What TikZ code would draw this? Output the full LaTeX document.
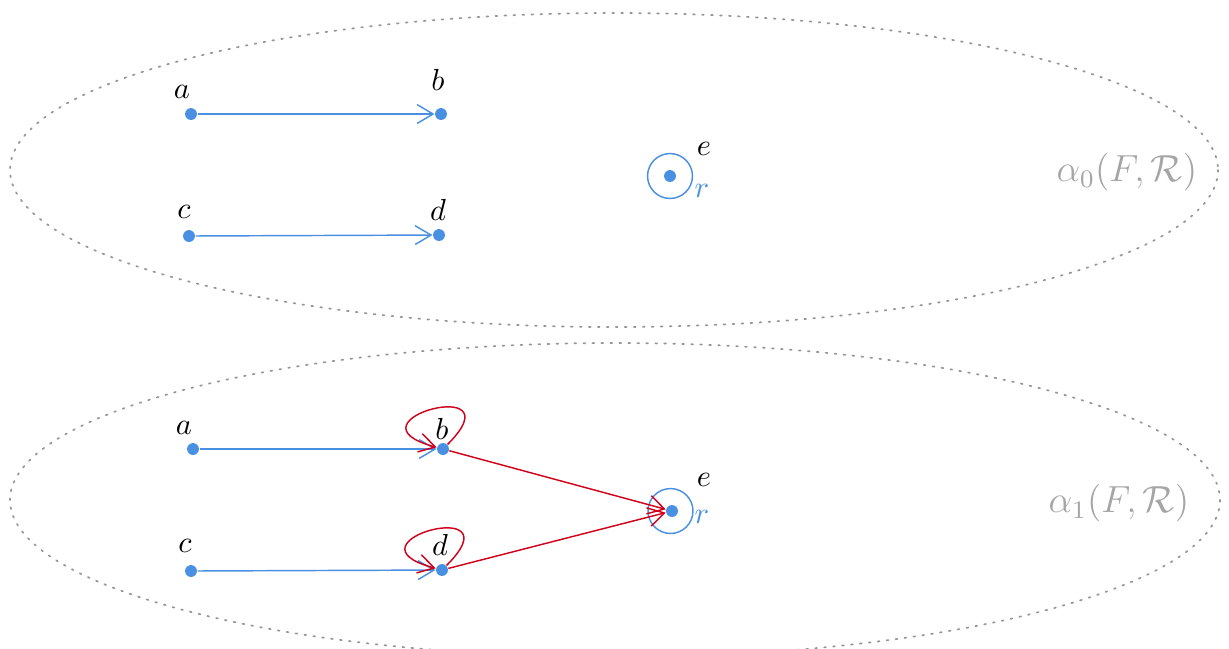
\documentclass[tikz,border=0pt]{standalone}
\usetikzlibrary{arrows.meta}
\definecolor{nodeblue}{RGB}{74,144,226}
\definecolor{edgered}{RGB}{208,2,27}
\definecolor{setgray}{RGB}{150,150,150}
\definecolor{labelgray}{RGB}{165,165,165}
\begin{document}
\begin{tikzpicture}[x=0.345pt,y=-0.345pt,
  dot/.style={circle,fill=nodeblue,inner sep=0pt,minimum size=4.1pt},
  ring/.style={circle,draw=nodeblue,line width=0.5pt,inner sep=0pt,minimum size=15.5pt},
  blueedge/.style={draw=nodeblue,line width=0.5pt,-{Straight Barb[length=5.5pt,width=6.5pt]}},
  rededge/.style={draw=edgered,line width=0.5pt,-{Straight Barb[length=5.5pt,width=6.5pt]}},
  selfloop/.style={rededge,out=45,in=165,min distance=35pt,looseness=8},
  lbl/.style={anchor=base,inner sep=0pt,scale=1.05},
  setlbl/.style={text=labelgray,font=\large,scale=1.085,inner sep=0pt},
  setline/.style={draw=setgray,line width=0.6pt,dash pattern=on 0.6pt off 2.5pt,line cap=round}]
\useasboundingbox (0,0) rectangle (1229,648);
\clip (0,0) rectangle (1229,648);
% sets
\draw[setline] (614,170) ellipse [x radius=604, y radius=157];
\draw[setline] (615,500) ellipse [x radius=605, y radius=157];
\node[setlbl] (s0) at (1127,172) {$\alpha_0(F,\mathcal{R})$};
\node[setlbl] (s1) at (1119,503) {$\alpha_1(F,\mathcal{R})$};
% top
\node[dot] (a1) at (191,114) {};
\node[dot] (b1) at (441,114) {};
\node[dot] (c1) at (189,236) {};
\node[dot] (d1) at (439,235) {};
\node[dot] (e1) at (670,176) {};
\node[ring] (r1) at (670,176) {};
\node[lbl] (la1) at (182,98) {$a$};
\node[lbl] (lb1) at (438,90) {$b$};
\node[lbl] (lc1) at (184,218) {$c$};
\node[lbl] (ld1) at (438,220) {$d$};
\node[lbl] (le1) at (704,155) {$e$};
\node[lbl,text=nodeblue] (lr1) at (702,197) {$r$};
\draw[blueedge] (a1) -- (b1);
\draw[blueedge] (c1) -- (d1);
% bottom
\node[dot] (a2) at (193,449) {};
\node[dot] (b2) at (443,449) {};
\node[dot] (c2) at (191,571) {};
\node[dot] (d2) at (442,570) {};
\node[dot] (e2) at (672,511) {};
\node[ring] (r2) at (670.5,511) {};
\node[lbl] (la2) at (184,434) {$a$};
\node[lbl] (lb2) at (442,439) {$b$};
\node[lbl] (lc2) at (185,552) {$c$};
\node[lbl] (ld2) at (440,555) {$d$};
\node[lbl] (le2) at (704,486) {$e$};
\node[lbl,text=nodeblue] (lr2) at (702,523) {$r$};
\draw[blueedge] (a2) -- (b2);
\draw[blueedge] (c2) -- (d2);
\draw[rededge] (b2) -- (e2);
\draw[rededge] (d2) -- (e2);
\path (b2) edge[selfloop] (b2);
\path (d2) edge[selfloop] (d2);
\end{tikzpicture}
\end{document}
